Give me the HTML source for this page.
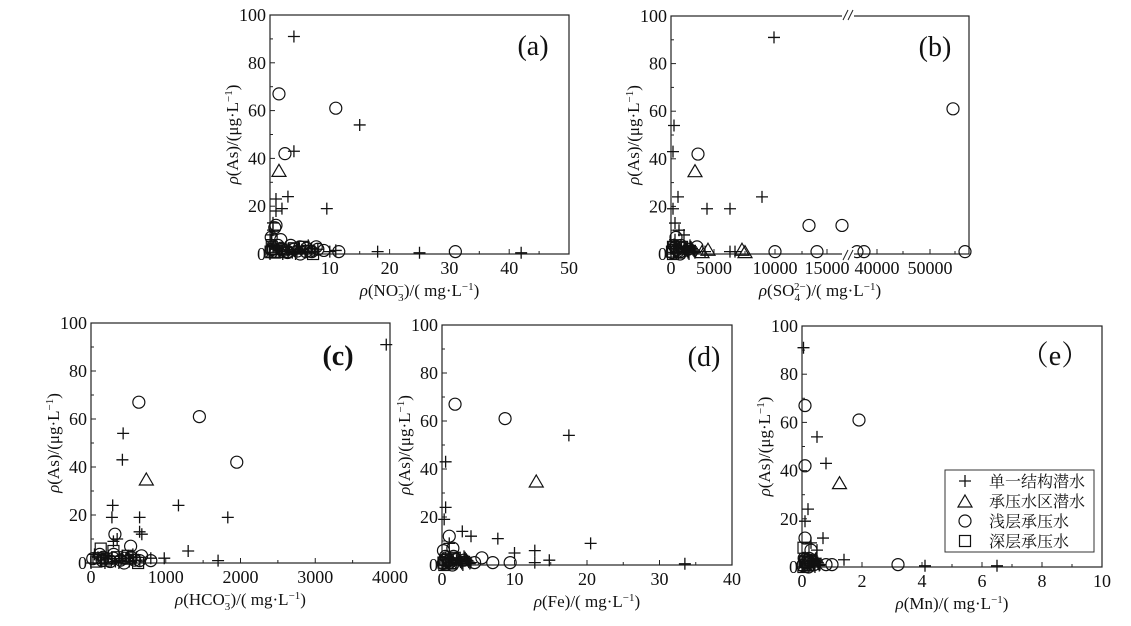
<!DOCTYPE html>
<html><head><meta charset="utf-8"><style>
body{margin:0;background:#fff;width:1131px;height:626px;overflow:hidden}
svg{display:block}
text{font-family:"Liberation Serif","Noto Serif CJK SC",serif;fill:#111}
</style></head><body>
<svg id="s" width="1131" height="626" xmlns="http://www.w3.org/2000/svg"></svg>
<script>
const S=document.getElementById('s');let h='';
function mk(t,x,y){
 if(t=='p')return `<path d="M${x-6} ${y}H${x+6}M${x} ${y-6}V${y+6}" stroke="#111" stroke-width="1.3" fill="none"/>`;
 if(t=='c')return `<circle cx="${x}" cy="${y}" r="6" stroke="#111" stroke-width="1.2" fill="none"/>`;
 if(t=='t')return `<path d="M${x} ${y-6}L${x+7} ${y+6}H${x-7}Z" stroke="#111" stroke-width="1.2" fill="none"/>`;
 return `<rect x="${x-5.5}" y="${y-5.5}" width="11" height="11" stroke="#111" stroke-width="1.2" fill="none"/>`;
}
function cluster(xs,n){const r=[];const ty=['p','c','p','s','p','c'];for(let i=0;i<n;i++){r.push([ty[i%6],xs*((i*37%n)/n),((i*53)%7)*0.6]);}return r;}
function plot(c){
 const {x0,x1,y0,y1}=c;const fy=v=>y1-(v/100)*(y1-y0);
 const fx=c.fx||(v=>x0+(v/c.xmax)*(x1-x0));
 h+=`<rect x="${x0}" y="${y0}" width="${x1-x0}" height="${y1-y0}" fill="none" stroke="#222" stroke-width="1.2"/>`;
 for(let v=0;v<=100;v+=10){const y=fy(v);h+=`<line x1="${x0}" x2="${x0+(v%20?3:5)}" y1="${y}" y2="${y}" stroke="#222"/>`;
  if(v%20==0)h+=`<text x="${x0-4}" y="${y+6}" font-size="18" text-anchor="end">${v}</text>`;}
 (c.xt||[]).forEach(t=>{h+=`<line x1="${t[0]}" x2="${t[0]}" y1="${y1}" y2="${y1-(t[1]?5:3)}" stroke="#222"/>`;if(t[1])h+=`<text x="${t[0]}" y="${y1+20}" font-size="18" text-anchor="middle">${t[1]}</text>`;});
 c.pts.forEach(p=>{h+=mk(p[0],c.px?p[1]:fx(p[1]),fy(p[2]));});
 h+=`<text x="${c.lx}" y="${c.ly}" font-size="28" text-anchor="middle">${c.lab}</text>`;
 h+=`<text transform="translate(${x0-32},${(y0+y1)/2}) rotate(-90)" font-size="17" text-anchor="middle"><tspan font-style="italic">ρ</tspan>(As)/(μg·L<tspan dy="-6" font-size="11">−1</tspan><tspan dy="6">)</tspan></text>`;
 h+=`<text x="${(x0+x1)/2}" y="${y1+42}" font-size="17" text-anchor="middle">${c.xl}</text>`;
}
function ticks(x0,x1,n,labs){const r=[];for(let i=0;i<=n*2;i++){r.push([x0+(x1-x0)*i/(n*2),i%2?null:labs[i/2]]);}return r;}
function ion(a,b,c){return `<tspan font-style="italic">ρ</tspan>(${a}<tspan dy="5" font-size="11">${b}</tspan><tspan dx="-6" dy="-11" font-size="11">${c}</tspan><tspan dy="6">)/( mg·L</tspan><tspan dy="-6" font-size="11">−1</tspan><tspan dy="6">)</tspan>`;}
// (a)
plot({x0:270,x1:569,y0:15,y1:254,xmax:50,xt:ticks(270,569,5,[0,10,20,30,40,50]),lx:533,ly:55,lab:'(a)',
xl:ion('NO','3','−'),
pts:[...cluster(8,30),['p',4,91],['p',15,54],['p',4,43],['p',3,24],['p',1,23],['p',1,18],['p',2,19],['p',9.5,19],['p',0.5,13],['p',0.5,10],['p',0.3,8],['p',0.2,6],['p',18,1],['p',25,0.5],['p',42,0.5],['p',10,1],['p',11,1.5],['p',6,1],['p',3,1],['p',1,2],['p',0.5,3],['p',7,1],['p',8,2],['p',4.5,1],['p',2,1],
['c',1.5,67],['c',11,61],['c',2.5,42],['c',1,12],['c',0.8,11],['c',0.2,7],['c',1.8,6],['c',5,3],['c',8,2],['c',9,1.5],['c',11.5,1],['c',31,1],['c',1,1],['c',2,2],['c',3,1],['c',6,1],['c',4,2],['c',7,1],
['t',1.5,35],['t',2,1],['t',0.5,1],['s',0.3,3],['s',0.1,1],['s',0.5,2]]});
// (b)
plot({x0:671,x1:969,y0:16,y1:254,px:1,xt:[[671,'0'],[693],[714,'5000'],[745],[775,'10000'],[802],[827,'15000'],[877,'40000'],[903],[930,'50000'],[955]],lx:935,ly:56,lab:'(b)',
xl:ion('SO','4','2−'),
pts:[...cluster(25,25).map(p=>[p[0],671+p[1],p[2]]),['p',774,91],['p',674,54],['p',673,43],['p',678,24],['p',673,19],['p',707,19],['p',730,19],['p',762,24],['p',675,13],['p',679,10],['p',684,8],['p',675,6],['p',690,3],['p',705,1],['p',730,1],['p',735,1],['p',680,2],['p',695,1],['p',674,4],
['c',953,61],['c',698,42],['c',809,12],['c',842,12],['c',775,1],['c',817,1],['c',857,1],['c',864,1],['c',965,1],['c',697,3],['c',688,2],['c',676,7],['c',680,1],
['t',695,35],['t',708,2],['t',742,2],['t',745,1],['t',702,1],['s',673,3],['s',672,1]]});
h+=`<rect x="842" y="8" width="12" height="14" fill="#fff"/><path d="M843 20L848 10M848 20L853 10" stroke="#222"/>`;
h+=`<rect x="842" y="248" width="12" height="14" fill="#fff"/><path d="M843 260L848 250M848 260L853 250" stroke="#222"/>`;
// (c)
plot({x0:91,x1:390,y0:323,y1:563,xmax:4000,xt:ticks(91,390,4,['0','1000','2000','3000','4000']),lx:338,ly:365,lab:'<tspan font-weight="bold">(c)</tspan>',
xl:ion('HCO','3','−'),
pts:[...cluster(700,30),['p',3950,91],['p',430,54],['p',420,43],['p',290,24],['p',280,19],['p',650,19],['p',1170,24],['p',1830,19],['p',650,13],['p',680,12],['p',1300,5],['p',1700,1],['p',980,2],['p',300,9],['p',350,10],['p',800,2],['p',500,3],['p',200,2],['p',400,1],['p',600,1],
['c',640,67],['c',1450,61],['c',1950,42],['c',320,12],['c',530,7],['c',800,1],['c',300,2],['c',150,1],['c',450,2],['c',650,1],
['t',740,35],['t',500,2],['s',130,6],['s',100,2],['s',300,5],['s',200,1]]});
// (d)
plot({x0:442,x1:732,y0:325,y1:565,xmax:40,xt:ticks(442,732,4,['0','10','20','30','40']),lx:704,ly:366,lab:'(d)',
xl:'<tspan font-style="italic">ρ</tspan>(Fe)/( mg·L<tspan dy="-6" font-size="11">−1</tspan><tspan dy="6">)</tspan>',
pts:[...cluster(4,25),['p',0.5,43],['p',0.5,24],['p',0.3,19],['p',17.5,54],['p',2.8,14],['p',4,12],['p',7.7,11],['p',10,5],['p',12.8,6],['p',12.8,1],['p',14.8,2],['p',20.5,9],['p',33.5,0.5],['p',1,9],['p',0.5,3],['p',2,2],['p',4,1],['p',1.5,1],
['c',1.8,67],['c',8.7,61],['c',1,12],['c',1.5,7],['c',0.2,6],['c',5.5,3],['c',7,1],['c',9.4,1],['c',3,2],['c',1,1],['c',4.5,1],['c',0.3,2],
['t',13,35],['t',1,1],['s',0.2,1],['s',0.5,2]]});
// (e)
plot({x0:802,x1:1102,y0:326,y1:567,xmax:10,xt:ticks(802,1102,5,['0','2','4','6','8','10']),lx:1055,ly:365,lab:'<tspan font-family="Noto Serif CJK SC">（</tspan>e<tspan font-family="Noto Serif CJK SC">）</tspan>',
xl:'<tspan font-style="italic">ρ</tspan>(Mn)/( mg·L<tspan dy="-6" font-size="11">−1</tspan><tspan dy="6">)</tspan>',
pts:[...cluster(0.6,25),['p',0.05,91],['p',0.5,54],['p',0.8,43],['p',0.2,24],['p',0.1,19],['p',0.7,12],['p',0.5,7],['p',1.4,3],['p',4.1,0.5],['p',6.5,0.5],['p',0.3,10],['p',0.2,2],['p',0.6,1],
['c',0.1,67],['c',1.9,61],['c',0.1,42],['c',0.1,12],['c',0.3,7],['c',3.2,1],['c',0.8,1],['c',0.2,3],['c',1,1],['c',0.4,1],
['t',1.25,35],['t',0.1,1],['s',0.05,8],['s',0.1,2]]});
h+=`<rect x="945" y="470" width="149" height="82" fill="#fff" stroke="#333"/>`;
const L=[['p','单一结构潜水'],['t','承压水区潜水'],['c','浅层承压水'],['s','深层承压水']];
L.forEach((l,i)=>{const y=481+i*20;h+=mk(l[0],965,y);h+=`<text x="989" y="${y+6}" font-size="16" font-family="Noto Sans CJK SC">${l[1]}</text>`;});
S.innerHTML=h;
</script>
</body></html>
